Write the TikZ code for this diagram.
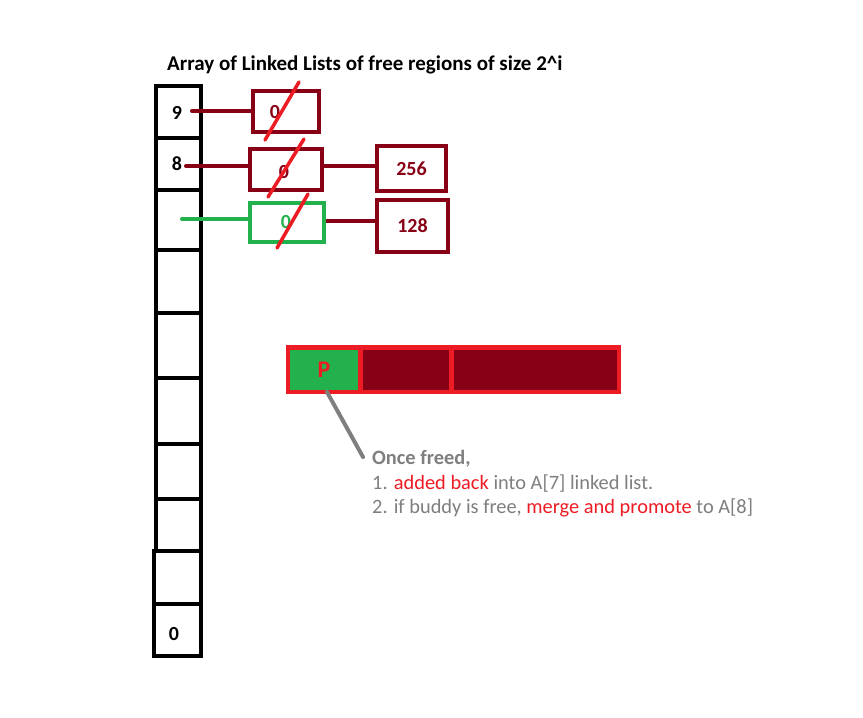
\documentclass[tikz,border=0pt]{standalone}
\usepackage{fontspec}
\setmainfont{Carlito}
\definecolor{dred}{HTML}{880015}
\definecolor{bred}{HTML}{ED1C24}
\definecolor{bgreen}{HTML}{22B14C}
\definecolor{tgray}{HTML}{7F7F7F}
\begin{document}
\begin{tikzpicture}[x=1pt,y=-1pt,
  cellbox/.style={draw=black,line width=4.5pt},
  listbox/.style={draw=dred,line width=4.5pt,fill=white},
  link/.style={draw=dred,line width=4pt},
  slash/.style={draw=bred,line width=3.5pt,line cap=round},
  lbl/.style={font=\fontsize{20}{22}\selectfont\bfseries,inner sep=0pt},
]
\useasboundingbox[fill=white] (0,0) rectangle (863,718);
% title
\node[anchor=base west,inner sep=0pt,font=\fontsize{21}{24}\selectfont\bfseries] (title) at (167,70) {Array of Linked Lists of free regions of size 2\^{}i};
% array cells
\draw[cellbox] (156,86) rectangle (201,138) node[pos=.5] (c9) {};
\draw[cellbox] (156,138) rectangle (201,190) node[pos=.5] (c8) {};
\draw[cellbox] (156,190) rectangle (201,250) node[pos=.5] (c7) {};
\draw[cellbox] (156,250) rectangle (201,313) node[pos=.5] (c6) {};
\draw[cellbox] (156,313) rectangle (201,378) node[pos=.5] (c5) {};
\draw[cellbox] (156,378) rectangle (201,444) node[pos=.5] (c4) {};
\draw[cellbox] (156,444) rectangle (201,499) node[pos=.5] (c3) {};
\draw[cellbox] (156,499) rectangle (201,551) node[pos=.5] (c2) {};
\draw[cellbox] (154,551) rectangle (201,604) node[pos=.5] (c1) {};
\draw[cellbox] (154,604) rectangle (201,656) node[pos=.5] (c0) {};
\node[lbl] (n9) at (177,113) {9};
\node[lbl] (n8) at (177,164) {8};
\node[lbl] (n0) at (174,634) {0};
% list boxes
\node[listbox,minimum width=66pt,minimum height=41pt,inner sep=0pt] (b9) at (286,111.5) {};
\node[listbox,minimum width=72pt,minimum height=41pt,inner sep=0pt] (b8) at (286,169.5) {};
\node[listbox,draw=bgreen,minimum width=74pt,minimum height=39pt,inner sep=0pt] (b7) at (287,222.5) {};
\node[listbox,minimum width=69pt,minimum height=45pt,inner sep=0pt,font=\fontsize{20}{22}\selectfont\bfseries,text=dred] (b256) at (411.5,168.5) {256};
\node[listbox,minimum width=71pt,minimum height=52pt,inner sep=0pt,font=\fontsize{20}{22}\selectfont\bfseries,text=dred] (b128) at (412.5,226) {128};
\node[lbl,text=dred] (z9) at (275,112) {0};
\node[lbl,text=dred] (z8) at (284,172) {0};
\node[lbl,text=bgreen] (z7) at (286,222) {0};
% connectors
\coordinate (s9) at (192,111);
\coordinate (s8) at (186,166);
\coordinate (s7) at (182,219);
\draw[link,line cap=round] (s9) -- (s9 -| b9.west);
\draw[link,line cap=round] (s8) -- (s8 -| b8.west);
\draw[draw=bgreen,line width=4pt,line cap=round] (s7) -- (s7 -| b7.west);
\draw[link] (b8.east |- 0,166) -- (b256.west |- 0,166);
\draw[link] (b7.east |- 0,221) -- (b128.west |- 0,221);
% slashes
\draw[slash] (265,140) -- (299,82);
\draw[slash] (268,197) -- (304,139);
\draw[slash] (277,248) -- (308,194);
% memory bar
\node[fill=bred,minimum width=335pt,minimum height=49pt,inner sep=0pt] (bar) at (453.5,369.5) {};
\node[fill=bgreen,minimum width=68pt,minimum height=40pt,inner sep=0pt,text=bred,font=\fontsize{24}{26}\selectfont\bfseries] (p) at (324,370) {P};
\node[fill=dred,minimum width=86pt,minimum height=40pt,inner sep=0pt] (m2) at (406,370) {};
\node[fill=dred,minimum width=163pt,minimum height=40pt,inner sep=0pt] (m3) at (535.5,370) {};
% note
\node[anchor=north west,inner sep=0pt,align=left,text=tgray,font=\fontsize{20.4}{24.5}\selectfont] (note) at (372,450)
  {\textbf{Once freed,}\\1. \textcolor{bred}{added back} into A[7] linked list.\\2. if buddy is free, \textcolor{bred}{merge and promote} to A[8]};
\coordinate (pb) at (327,392);
\draw[draw=tgray,line width=4pt,line cap=round] (pb) -- (363,457);
\end{tikzpicture}
\end{document}
